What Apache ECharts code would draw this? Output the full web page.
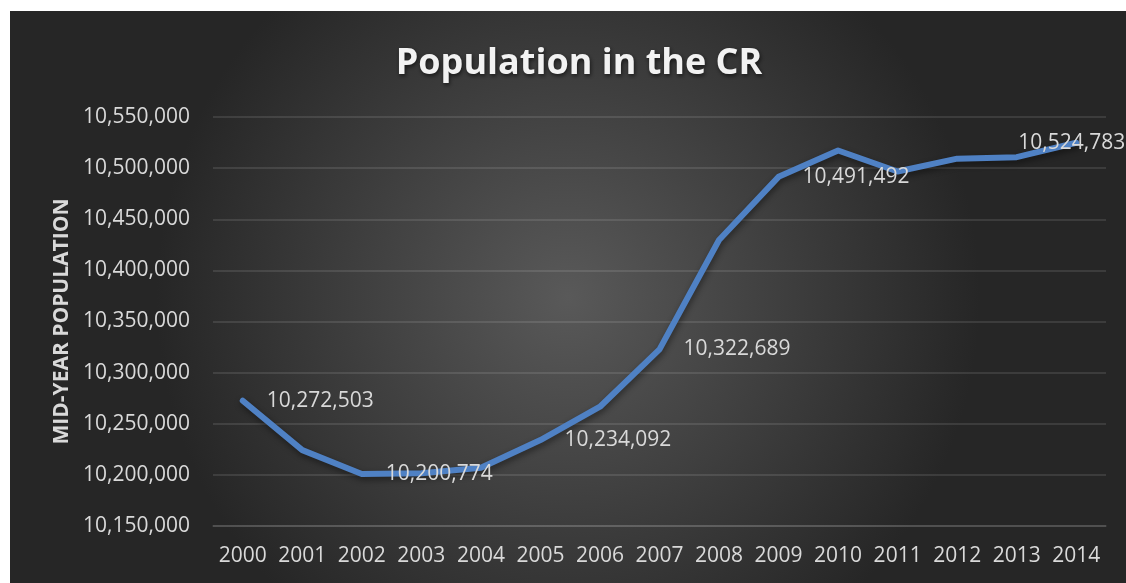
<!DOCTYPE html>
<html>
<head>
<meta charset="utf-8">
<title>Population in the CR</title>
<script src="https://cdn.jsdelivr.net/npm/echarts@6/dist/echarts.min.js"></script>
<style>
  html, body { margin: 0; padding: 0; background: #ffffff; }
  #chart { width: 1126px; height: 583px; }
</style>
</head>
<body>
<div id="chart"></div>
<script>
// Mid-year population of the Czech Republic
const years = ['2000', '2001', '2002', '2003', '2004', '2005', '2006', '2007',
               '2008', '2009', '2010', '2011', '2012', '2013', '2014'];
const population = [10272503, 10224192, 10200774, 10201651, 10206923, 10234092,
                    10266646, 10322689, 10429692, 10491492, 10517247, 10496672,
                    10509286, 10510719, 10524783];
// Years whose value is written next to the line
const labelledYears = ['2000', '2002', '2005', '2007', '2009', '2014'];

const fmt = v => Number(v).toLocaleString('en-US');
const font = '"Open Sans", "Noto Sans", sans-serif';
const textColor = '#d9d9d9';

const labelStyle = {
  show: true,
  position: 'right',
  distance: 23,
  color: textColor,
  fontFamily: font,
  fontSize: 21,
  formatter: p => fmt(p.value)
};

const seriesData = years.map((y, i) => {
  const item = { value: population[i] };
  if (labelledYears.includes(y)) {
    item.label = Object.assign({}, labelStyle);
    // last label is pulled back so it stays inside the chart box
    if (i === years.length - 1) {
      item.label.position = [-57, 1];
      item.label.align = 'left';
      item.label.verticalAlign = 'middle';
    }
  } else {
    item.label = { show: false };
  }
  return item;
});

const chart = echarts.init(document.getElementById('chart'));
chart.setOption({
  backgroundColor: '#ffffff',
  animation: false,
  graphic: [{
    type: 'rect',
    z: -100,
    silent: true,
    shape: { x: 10, y: 11, width: 1116, height: 572 },
    style: {
      fill: {
        type: 'radial', x: 0.5, y: 0.5, r: 0.72,
        colorStops: [
          { offset: 0, color: '#595959' },
          { offset: 1, color: '#262626' }
        ]
      }
    }
  }],
  title: {
    text: 'Population in the CR',
    left: 574,
    top: 41,
    textAlign: 'center',
    textStyle: {
      fontFamily: font,
      fontWeight: 'bold',
      fontSize: 36,
      color: '#f2f2f2',
      textShadowColor: 'rgba(0,0,0,0.6)',
      textShadowBlur: 4,
      textShadowOffsetX: 1,
      textShadowOffsetY: 2
    }
  },
  grid: { left: 213, right: 20, top: 117, bottom: 57 },
  xAxis: {
    type: 'category',
    data: years,
    boundaryGap: true,
    axisLine: { show: true, lineStyle: { color: 'rgba(255,255,255,0.14)', width: 1.5 } },
    axisTick: { show: false },
    axisLabel: { color: textColor, fontFamily: font, fontSize: 21, margin: 20, interval: 0 }
  },
  yAxis: {
    type: 'value',
    min: 10150000,
    max: 10550000,
    interval: 50000,
    name: 'MID-YEAR POPULATION',
    nameLocation: 'middle',
    nameRotate: 90,
    nameGap: 140,
    nameTextStyle: { color: textColor, fontFamily: font, fontWeight: 'bold', fontSize: 21 },
    axisLine: { show: false },
    axisTick: { show: false },
    splitLine: { lineStyle: { color: 'rgba(255,255,255,0.14)', width: 1.5 } },
    axisLabel: { color: textColor, fontFamily: font, fontSize: 21, margin: 23, formatter: fmt }
  },
  series: [{
    type: 'line',
    data: seriesData,
    smooth: false,
    symbol: 'circle',
    symbolSize: 2,
    showSymbol: true,
    showAllSymbol: true,
    itemStyle: { color: 'rgba(0,0,0,0)', borderWidth: 0 },
    lineStyle: {
      color: '#4f81c4',
      width: 6,
      cap: 'round',
      join: 'round',
      shadowColor: 'rgba(0,0,0,0.45)',
      shadowBlur: 6,
      shadowOffsetX: 1,
      shadowOffsetY: 3
    },
    label: labelStyle,
    labelLayout: { hideOverlap: false }
  }]
});
</script>
</body>
</html>
